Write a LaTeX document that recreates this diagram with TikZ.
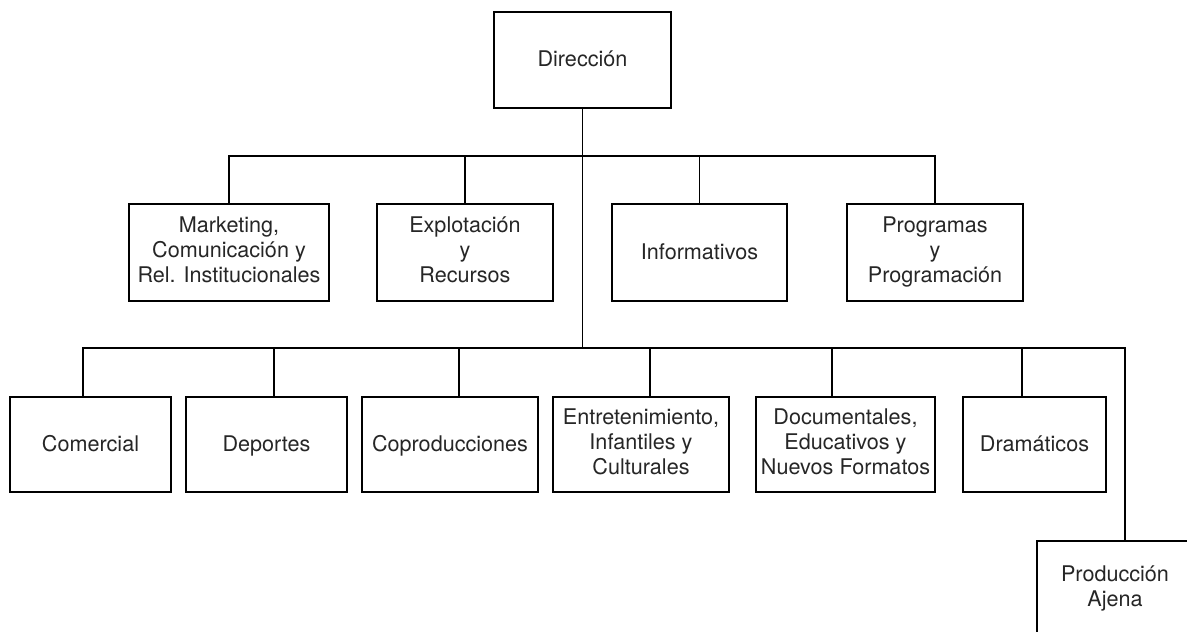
\documentclass[tikz,border=0pt]{standalone}
\usepackage{fontspec}
\setmainfont{TeX Gyre Heros}
\newcommand{\unitstrut}{\rule[-5pt]{0pt}{23pt}}
\begin{document}
\begin{tikzpicture}[x=1pt,y=-1pt,
  unit/.style={draw, line width=1.2pt, align=center, inner sep=0pt,
    text=black!85, font=\fontsize{21.6}{25}\selectfont,
    execute at begin node=\unitstrut, execute at end node=\unitstrut},
  link/.style={line width=1.2pt}]
\clip (0,0) rectangle (1187,632);

% top
\node[unit, minimum width=177pt, minimum height=96pt] (dir) at (582.5,60) {Dirección};

% first level
\node[unit, minimum width=200pt, minimum height=97pt] (mkt) at (229,252.5) {Marketing,\\Comunicación y\\Rel. Institucionales};
\node[unit, minimum width=176pt, minimum height=97pt] (exp) at (465,252.5) {Explotación\\y\\Recursos};
\node[unit, minimum width=175pt, minimum height=97pt] (inf) at (699.5,252.5) {Informativos};
\node[unit, minimum width=176pt, minimum height=97pt] (prg) at (935,252.5) {Programas\\y\\Programación};

% second level
\node[unit, minimum width=161pt, minimum height=95pt] (com) at (90.5,444.5) {Comercial};
\node[unit, minimum width=161pt, minimum height=95pt] (dep) at (266.5,444.5) {Deportes};
\node[unit, minimum width=176pt, minimum height=95pt] (cop) at (450,444.5) {Coproducciones};
\node[unit, minimum width=176pt, minimum height=95pt] (ent) at (641,444.5) {Entretenimiento,\\Infantiles y\\Culturales};
\node[unit, minimum width=179pt, minimum height=95pt] (doc) at (845.5,444.5) {Documentales,\\Educativos y\\Nuevos Formatos};
\node[unit, minimum width=143pt, minimum height=95pt] (dra) at (1034.5,444.5) {Dramáticos};
\node[unit, minimum width=156pt, minimum height=96pt] (aje) at (1115,589) {Producción\\Ajena};

% buses
\coordinate (bus1) at (582.5,156);
\coordinate (bus2) at (582.5,348);
\coordinate (dcom) at (83,348);
\coordinate (ddep) at (274,348);
\coordinate (dcop) at (459,348);
\coordinate (dent) at (650,348);
\coordinate (ddoc) at (832,348);
\coordinate (ddra) at (1022,348);
\coordinate (daje) at (1125,348);

\draw[link] (dir.south) -- (bus2);
\draw[link] (mkt.north) -- (mkt.north |- bus1) -| (prg.north);
\foreach \n in {exp,inf}
  \draw[link] (\n.north) -- (\n.north |- bus1);
\draw[link] (dcom |- com.north) -- (dcom) -- (daje) -- (daje |- aje.north);
\foreach \n in {dep,cop,ent,doc,dra}
  \draw[link] (d\n) -- (d\n |- \n.north);
\end{tikzpicture}
\end{document}
